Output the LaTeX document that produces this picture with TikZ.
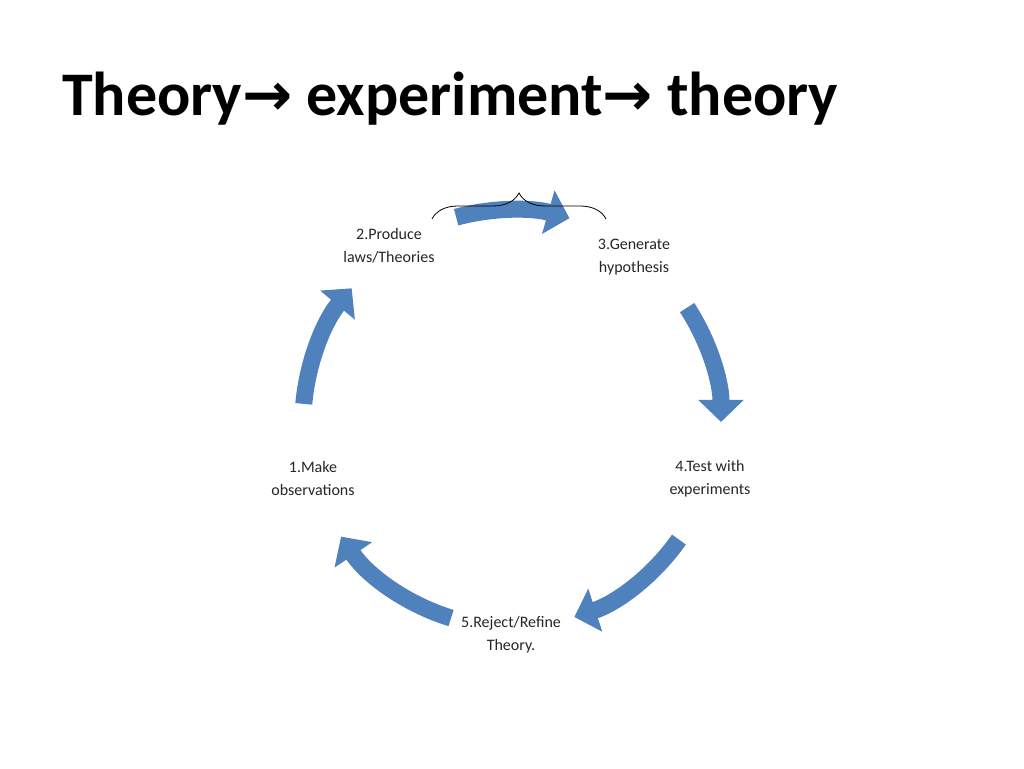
\documentclass[tikz,border=0pt]{standalone}
\usepackage{fontspec}
\setmainfont{Carlito}
\newfontfamily\arrfont{DejaVu Sans}
\usetikzlibrary{arrows.meta,decorations.pathreplacing}
\definecolor{cyc}{HTML}{4F81BD}
\tikzset{
  cycarr/.style={draw=cyc,line width=17pt,-{Triangle[width=44pt,length=22pt]},fill=none},
  lbl/.style={align=center,font=\fontsize{16}{23}\selectfont,text=black!85}
}
\begin{document}
\begin{tikzpicture}[x=1pt,y=1pt]
\useasboundingbox (0,0) rectangle (1024,768);
\fill[white] (0,0) rectangle (1024,768);
\node[anchor=base west,inner sep=0,font=\bfseries\fontsize{62}{66}\selectfont] (title) at (62,652) {Theory{\arrfont\bfseries\fontsize{60}{66}\selectfont→} experiment{\arrfont\bfseries\fontsize{60}{66}\selectfont→} theory};
\coordinate (c) at (511,346);
\node[lbl] (n1) at (313,289) {1.Make\\observations};
\node[lbl] (n2) at (389,522) {2.Produce\\laws/Theories};
\node[lbl] (n3) at (634,511) {3.Generate\\hypothesis};
\node[lbl] (n4) at (710,289) {4.Test with\\experiments};
\node[lbl] (n5) at (511,133) {5.Reject/Refine\\Theory.};
\draw[cycarr] ([shift={(175:208)}]c) arc[start angle=175,end angle=140,radius=208];
\draw[cycarr] ([shift={(105:212)}]c) arc[start angle=105,end angle=74,radius=212];
\draw[cycarr] ([shift={(33:210)}]c) arc[start angle=33,end angle=0,radius=210];
\draw[cycarr] ([shift={(-35:205)}]c) arc[start angle=-35,end angle=-72,radius=205];
\draw[cycarr] ([shift={(-107:205)}]c) arc[start angle=-107,end angle=-146,radius=205];
\coordinate (bl) at (432,549);
\coordinate (br) at (606,549);
\draw[decorate,decoration={brace,amplitude=26pt},black,line width=0.8pt] (bl) -- (br);
\end{tikzpicture}
\end{document}
